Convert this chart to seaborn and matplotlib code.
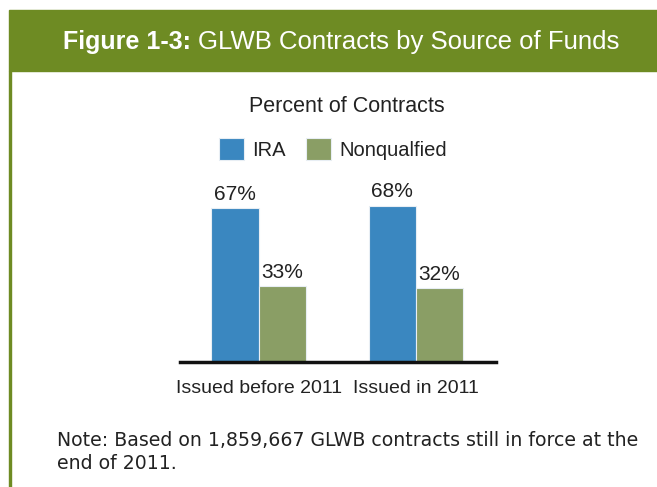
import matplotlib
matplotlib.use('Agg')
import matplotlib.pyplot as plt
from matplotlib.patches import Rectangle
import pandas as pd
import seaborn as sns

periods = ['Issued before 2011', 'Issued in 2011']
sources = ['IRA', 'Nonqualfied']
ira = [67, 68]
nonqualified = [33, 32]

colours = {'IRA': '#3a87c0', 'Nonqualfied': '#8a9e65'}
header_green = '#6e8b23'
ink = '#222222'

sns.set_theme(style='white')
plt.rcParams['font.family'] = ['Liberation Sans', 'DejaVu Sans']

df = pd.DataFrame({
    'period': periods * 2,
    'source': ['IRA'] * 2 + ['Nonqualfied'] * 2,
    'pct': ira + nonqualified,
})

W, H = 657, 487
fig = plt.figure(figsize=(W / 100, H / 100), dpi=100)

# header band and left rule
fig.patches.append(Rectangle((9 / W, 1 - 71 / H), 1, 61 / H,
                             transform=fig.transFigure, color=header_green))
fig.patches.append(Rectangle((9 / W, 0), 2 / W, 1 - 71 / H,
                             transform=fig.transFigure, color=header_green))
t1 = fig.text(63 / W, 1 - 42 / H, 'Figure 1-3:', color='white', fontsize=18,
              fontweight='bold', va='center', ha='left')
fig.canvas.draw()
x_after = t1.get_window_extent().x1 + 7
fig.text(x_after / W, 1 - 42 / H, 'GLWB Contracts by Source of Funds',
         color='white', fontsize=18.5, va='center', ha='left')

# axes placed so that baseline sits at y=362 px
ax = fig.add_axes([180 / W, 1 - 362 / H, 316 / W, 161 / H])
sns.barplot(data=df, x='period', y='pct', hue='source', order=periods,
            hue_order=sources, palette=colours, width=0.6, saturation=1,
            edgecolor='#e8eef4', linewidth=0.8, ax=ax)
ax.set_xlim(-0.5, 1.51)
ax.set_ylim(0, 70)
for c in ax.containers:
    ax.bar_label(c, fmt='%d%%', fontsize=15, color=ink, padding=3)

sns.despine(ax=ax, left=True)
ax.spines['bottom'].set_color('#111111')
ax.spines['bottom'].set_linewidth(2.5)
ax.set_yticks([])
ax.set_xlabel('')
ax.set_ylabel('')
ax.tick_params(axis='x', labelsize=14, colors=ink, length=0, pad=13)

handles, labels = ax.get_legend_handles_labels()
ax.get_legend().remove()
fig.legend(handles, labels, loc='center', bbox_to_anchor=(333 / W, 1 - 149 / H),
           ncol=2, frameon=False, fontsize=14.5, handlelength=1.25,
           handleheight=1.25, handletextpad=0.4, columnspacing=1.0,
           labelcolor=ink, borderpad=0)

fig.text(347 / W, 1 - 107 / H, 'Percent of Contracts', fontsize=15.5,
         color=ink, ha='center', va='center')

fig.text(57 / W, 1 - 452 / H,
         'Note: Based on 1,859,667 GLWB contracts still in force at the\nend of 2011.',
         fontsize=13.6, color=ink, ha='left', va='center',
         linespacing=1.25, family='DejaVu Sans')

fig.savefig('out.png', dpi=100)
